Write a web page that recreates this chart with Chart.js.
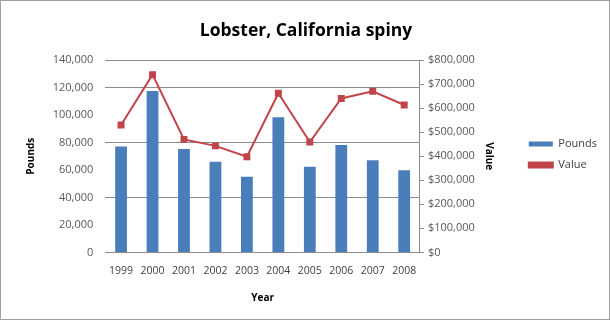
<!DOCTYPE html>
<html>
<head>
	<script src="https://cdn.jsdelivr.net/npm/chart.js"></script>
    <title>Lobster, California spiny</title>
    <style>
        body { margin: 0; background: #fff; }
        #wrap { width: 610px; height: 320px; box-sizing: border-box; border: 1px solid #a0a0a0; }
    </style>
</head>
<body>
 
    <div id="wrap"><canvas id="myChart" width="608" height="318"></canvas></div>
 
    <script>
		// data
		const years = ['1999', '2000', '2001', '2002', '2003', '2004', '2005', '2006', '2007', '2008'];
		const pounds = [77000, 117500, 75200, 66000, 55000, 98400, 62400, 78100, 67000, 59700];
		const value = [530000, 739000, 470000, 443000, 398000, 662000, 459000, 640000, 670000, 613000];

		Chart.defaults.font.family = '"Open Sans", sans-serif';
		Chart.defaults.color = '#595959';

		const ctx = document.getElementById('myChart').getContext('2d');
		const chart = new Chart(ctx, {
			type: 'bar',
			data: {
				labels: years,
				datasets: [{
					type: 'line',
					label: 'Value',
					data: value,
					yAxisID: 'y1',
					borderColor: '#c0454a',
					backgroundColor: '#c0454a',
					borderWidth: 2,
					pointStyle: 'rect',
					pointRadius: 3.5,
					pointBackgroundColor: '#c0454a',
					pointBorderColor: '#c0454a',
					tension: 0,
					order: 0
				}, {
					label: 'Pounds',
					data: pounds,
					yAxisID: 'y',
					backgroundColor: '#4a7ebb',
					borderWidth: 0,
					barPercentage: 0.75,
					categoryPercentage: 0.5,
					order: 1
				}]
			},
			options: {
				responsive: false,
				animation: false,
				layout: { padding: { left: 4, right: 2, top: 4, bottom: 15 } },
				plugins: {
					title: {
						display: true,
						text: 'Lobster, California spiny',
						color: '#000',
						font: { size: 17.5, weight: 'bold' },
						padding: { top: 16, bottom: 18 }
					},
					legend: {
						position: 'right',
						reverse: true,
						labels: {
							boxWidth: 24,
							boxHeight: 5,
							padding: 10,
							color: '#404040',
							font: { size: 11 }
						}
					},
					tooltip: { enabled: false }
				},
				scales: {
					x: {
						grid: { display: false },
						border: { display: false },
						ticks: { color: '#404040', font: { size: 10.5 }, padding: 4 },
						title: { display: true, text: 'Year', color: '#000', font: { size: 10, weight: 'bold' }, padding: { top: 11, bottom: 0 } }
					},
					y: {
						position: 'left',
						min: 0,
						max: 140000,
						ticks: {
							stepSize: 20000,
							padding: 12,
							font: { size: 11 },
							callback: v => v.toLocaleString('en-US')
						},
						border: { display: false },
						grid: {
							drawTicks: false,
							color: c => [0, 40000, 80000, 120000, 140000].includes(c.tick.value) ? '#8c8c8c' : 'rgba(0,0,0,0)'
						},
						title: { display: true, text: 'Pounds', color: '#000', font: { size: 10, weight: 'bold' }, padding: { top: 20, bottom: 8 } }
					},
					y1: {
						position: 'right',
						min: 0,
						max: 800000,
						ticks: {
							stepSize: 100000,
							padding: 4,
							font: { size: 11 },
							callback: v => '$' + v.toLocaleString('en-US')
						},
						border: { display: true, color: '#8c8c8c' },
						grid: { drawOnChartArea: false, tickLength: 4, color: '#8c8c8c' },
						title: { display: true, text: 'Value', color: '#000', font: { size: 10, weight: 'bold' }, padding: { top: 24, bottom: 4 } }
					}
				}
			}
		});
    </script>
</body>
</html>
